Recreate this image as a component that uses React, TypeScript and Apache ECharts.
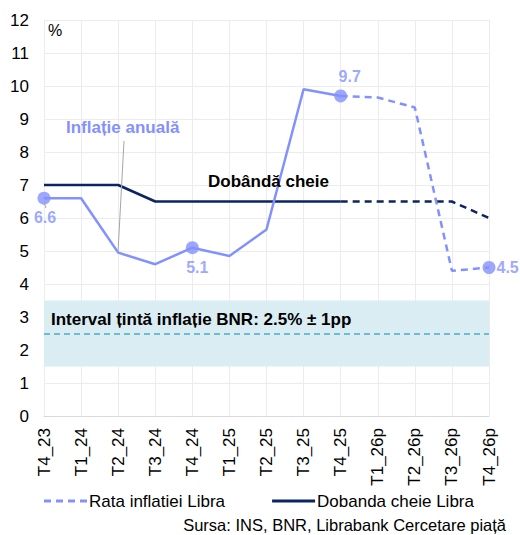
import React, { useEffect, useRef } from "react";
import * as echarts from "echarts";

const categories = ["T4_23", "T1_24", "T2_24", "T3_24", "T4_24", "T1_25", "T2_25", "T3_25", "T4_25", "T1_26p", "T2_26p", "T3_26p", "T4_26p"];
const inflationActual = [6.6, 6.6, 4.95, 4.6, 5.1, 4.85, 5.65, 9.9, 9.7, null, null, null, null];
const inflationForecast = [null, null, null, null, null, null, null, null, 9.7, 9.65, 9.35, 4.4, 4.5];
const keyRateActual = [7, 7, 7, 6.5, 6.5, 6.5, 6.5, 6.5, 6.5, null, null, null, null];
const keyRateForecast = [null, null, null, null, null, null, null, null, 6.5, 6.5, 6.5, 6.5, 6.0];
const highlighted = [
  { cat: "T4_23", value: 6.6, pos: "bottom", offset: [1, 0] },
  { cat: "T4_24", value: 5.1, pos: "bottom", offset: [5, 0] },
  { cat: "T4_25", value: 9.7, pos: "top", offset: [9, 0] },
  { cat: "T4_26p", value: 4.5, pos: "right", offset: [0, 0] },
];
const targetBand = [1.5, 3.5];
const targetCenter = 2.5;

const INF = "#8391FF";
const NAVY = "#0C2462";
const FONT = "'Liberation Sans', Arial, sans-serif";
const DASH_ICON = "path://M0 0h7v3H0z M12 0h7v3h-7z M24 0h7v3h-7z M36 0h7v3h-7z";
const SOLID_ICON = "path://M0 0h43v3H0z";

export default function App() {
  const ref = useRef<HTMLDivElement>(null);
  useEffect(() => {
    const chart = echarts.init(ref.current!, null, { renderer: "svg" });
    chart.setOption({
      animation: false,
      textStyle: { fontFamily: FONT },
      grid: { left: 44, right: 31, top: 20, bottom: 119 },
      xAxis: {
        type: "category",
        data: categories,
        boundaryGap: false,
        axisLine: { lineStyle: { color: "#d9d9d9", width: 1 } },
        axisTick: { show: false },
        axisLabel: { rotate: 90, fontSize: 17, color: "#000", margin: 12, fontFamily: FONT },
        splitLine: { show: true, lineStyle: { color: "#ececec", width: 1 } },
      },
      yAxis: {
        type: "value",
        min: 0,
        max: 12,
        interval: 1,
        axisLine: { show: false },
        axisTick: { show: false },
        axisLabel: { fontSize: 17, color: "#000", margin: 15, fontFamily: FONT },
        splitLine: { lineStyle: { color: "#ececec", width: 1 } },
      },
      legend: {
        left: 44,
        top: 491,
        padding: 0,
        itemWidth: 43,
        itemHeight: 3,
        itemGap: 47,
        data: [
          { name: "Rata inflatiei Libra", icon: DASH_ICON },
          { name: "Dobanda cheie Libra", icon: SOLID_ICON },
        ],
        textStyle: { fontSize: 17, lineHeight: 20, color: "#000", fontFamily: FONT, padding: [0, 0, 0, -3] },
      },
      series: [
        {
          name: "band",
          type: "line",
          data: [],
          markArea: {
            silent: true,
            itemStyle: { color: "#DAEDF3" },
            data: [[{ yAxis: targetBand[0] }, { yAxis: targetBand[1] }]],
          },
          markLine: {
            silent: true,
            symbol: "none",
            label: { show: false },
            lineStyle: { color: "#4BACC6", type: [6, 4], width: 1.5 },
            data: [{ yAxis: targetCenter }],
          },
        },
        {
          name: "Dobanda cheie Libra",
          type: "line",
          data: keyRateActual,
          symbol: "none",
          lineStyle: { color: NAVY, width: 2.5 },
          itemStyle: { color: NAVY },
        },
        {
          name: "Dobanda forecast",
          type: "line",
          data: keyRateForecast,
          symbol: "none",
          lineStyle: { color: NAVY, width: 2.5, type: [7, 5] },
          itemStyle: { color: NAVY },
        },
        {
          name: "Inflatie",
          type: "line",
          data: inflationActual,
          symbol: "none",
          lineStyle: { color: INF, width: 2.5 },
          itemStyle: { color: INF },
        },
        {
          name: "Rata inflatiei Libra",
          type: "line",
          data: inflationForecast,
          symbol: "none",
          lineStyle: { color: INF, width: 2.5, type: [7, 5] },
          itemStyle: { color: INF },
        },
        {
          name: "points",
          type: "scatter",
          symbolSize: 13,
          itemStyle: { color: INF },
          z: 5,
          data: highlighted.map((p) => ({
            value: [p.cat, p.value],
            label: {
              show: true,
              position: p.pos,
              offset: p.offset,
              distance: p.pos === "right" ? 1 : 5,
              formatter: p.value.toFixed(1),
              color: INF,
              fontWeight: "bold",
              fontSize: 16,
              fontFamily: FONT,
            },
          })),
        },
      ],
      graphic: [
        { type: "text", z: 100, left: 48, top: 22, style: { text: "%", fontSize: 16, fill: "#000", fontFamily: FONT } },
        { type: "text", z: 100, left: 66, top: 119, style: { text: "Inflație anuală", fontSize: 17, fontWeight: "bold", fill: INF, fontFamily: FONT } },
        { type: "line", z: 100, shape: { x1: 124, y1: 141, x2: 118, y2: 252 }, style: { stroke: "#a6a6a6", lineWidth: 1 } },
        { type: "line", z: 100, shape: { x1: 44, y1: 202, x2: 46, y2: 208 }, style: { stroke: "#a6a6a6", lineWidth: 1 } },
        { type: "text", z: 100, left: 208, top: 173, style: { text: "Dobândă cheie", fontSize: 17, fontWeight: "bold", fill: "#000", fontFamily: FONT } },
        { type: "text", z: 100, left: 51, top: 311, style: { text: "Interval țintă inflație BNR: 2.5% ± 1pp", fontSize: 17, fontWeight: "bold", fill: "#000", fontFamily: FONT } },
        { type: "text", z: 100, right: 14, top: 516, style: { text: "Sursa: INS, BNR, Librabank Cercetare piață", fontSize: 16.5, fill: "#000", fontFamily: FONT } },
      ],
    });
    return () => chart.dispose();
  }, []);
  return <div ref={ref} style={{ width: 520, height: 535, position: "absolute", left: 0, top: 0 }} />;
}
